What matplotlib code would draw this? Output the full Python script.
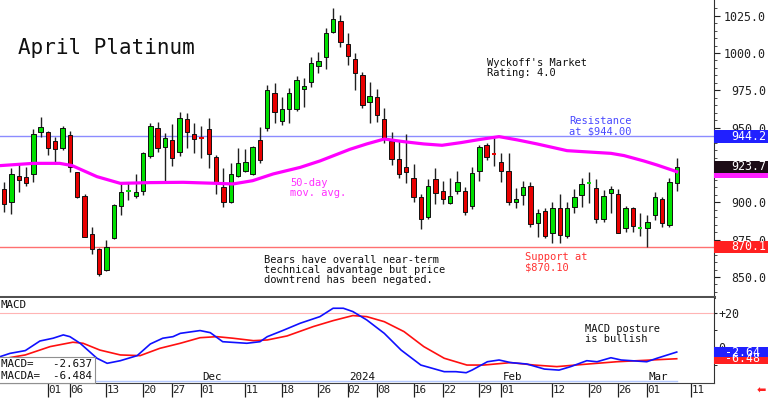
"""April Platinum daily candles with 50-day MA and MACD panel."""
import matplotlib
matplotlib.use("Agg")
import matplotlib.pyplot as plt
import matplotlib.transforms as mtransforms
from matplotlib.patches import Rectangle
import pandas as pd

plt.rcParams["font.family"] = ["DejaVu Sans Mono", "DejaVu Sans"]

# trading days (exchange holidays removed)
holidays = ["2023-11-23", "2023-12-25", "2024-01-01", "2024-01-15", "2024-02-19"]
dates = pd.bdate_range("2023-10-24", "2024-03-07")
dates = dates[~dates.isin(pd.to_datetime(holidays))]

opens = [908.7, 900.4, 917.6, 916.7, 919.0, 947.3, 947.3, 941.0, 936.6, 945.1,
         920.1, 904.4, 878.6, 868.5, 854.7, 875.9, 897.5, 907.7, 904.4, 907.8,
         931.0, 949.5, 937.3, 941.7, 933.5, 955.6, 945.7, 943.4, 949.1, 930.1,
         910.0, 900.4, 917.6, 921.2, 919.0, 941.7, 949.6, 973.0, 954.7, 962.3,
         962.3, 975.7, 980.8, 991.3, 997.6, 1013.8, 1021.7, 1006.0, 995.8, 985.6,
         967.4, 970.3, 955.6, 941.1, 928.8, 923.4, 916.1, 903.3, 889.9, 915.4,
         907.8, 899.3, 907.8, 907.8, 897.5, 921.2, 938.4, 932.4, 927.2, 921.2,
         900.4, 904.9, 910.9, 885.9, 894.4, 879.7, 896.0, 877.4, 896.6, 904.9,
         913.0, 909.3, 888.6, 906.0, 905.5, 882.6, 896.0, 882.5, 882.6, 891.5,
         902.2, 884.8, 912.7]
highs = [913.8, 922.7, 925.6, 923.4, 948.9, 956.9, 947.7, 944.0, 951.1, 947.7,
         920.5, 905.3, 883.7, 869.6, 874.8, 898.9, 913.1, 913.8, 919.0, 933.9,
         952.9, 954.0, 946.2, 952.4, 960.2, 959.6, 952.9, 951.0, 956.2, 931.7,
         922.8, 926.1, 936.1, 935.5, 938.0, 950.7, 978.6, 980.1, 970.8, 976.3,
         984.6, 983.0, 997.6, 1000.9, 1016.5, 1029.9, 1025.5, 1013.6, 1000.2, 987.5,
         980.8, 975.7, 962.9, 947.3, 941.7, 945.7, 925.7, 905.6, 915.4, 922.8,
         914.5, 916.1, 921.2, 910.5, 923.9, 938.4, 939.5, 943.5, 932.8, 932.8,
         909.3, 914.5, 913.8, 895.3, 896.0, 900.4, 905.6, 900.4, 908.7, 916.0,
         920.5, 915.4, 908.2, 910.9, 908.7, 897.5, 896.6, 892.6, 891.5, 907.1,
         903.3, 916.0, 929.4]
lows = [893.7, 892.2, 907.1, 910.9, 913.8, 943.5, 931.7, 925.6, 935.0, 920.5,
        903.1, 876.5, 865.4, 850.6, 854.2, 875.6, 891.5, 901.5, 902.7, 904.9,
        929.4, 933.9, 913.8, 924.3, 931.0, 936.1, 933.2, 929.7, 922.8, 905.6,
        896.6, 899.8, 916.7, 920.5, 918.3, 926.1, 947.8, 952.9, 951.8, 952.9,
        961.0, 963.6, 977.0, 986.8, 989.1, 1013.2, 1003.8, 992.0, 975.2, 963.0,
        953.3, 954.0, 940.0, 925.0, 916.1, 913.2, 900.4, 881.9, 888.6, 898.9,
        898.9, 898.9, 905.6, 891.5, 895.3, 914.5, 928.3, 924.3, 913.8, 898.2,
        896.0, 898.2, 883.7, 876.5, 875.9, 872.5, 873.0, 875.9, 893.1, 896.6,
        899.8, 886.3, 887.0, 893.1, 879.2, 880.3, 880.3, 877.4, 870.1, 888.1,
        883.2, 883.2, 907.6]
closes = [898.9, 919.0, 914.9, 912.7, 945.7, 950.7, 936.1, 935.7, 949.5, 923.9,
          903.8, 877.0, 868.7, 852.0, 870.3, 898.0, 907.1, 907.8, 907.1, 932.8,
          951.1, 936.6, 942.8, 929.4, 956.2, 947.3, 942.2, 943.3, 932.1, 913.4,
          900.4, 919.0, 926.5, 927.2, 936.8, 928.4, 975.2, 960.3, 962.3, 973.0,
          981.9, 977.9, 993.1, 994.7, 1013.6, 1022.6, 1007.6, 998.0, 986.4, 965.5,
          971.2, 958.5, 942.8, 928.8, 919.0, 920.5, 903.3, 888.6, 910.9, 906.0,
          902.0, 904.2, 913.8, 893.7, 919.9, 936.8, 930.5, 932.3, 921.2, 900.4,
          902.2, 910.0, 885.5, 892.6, 877.4, 896.0, 878.1, 896.0, 903.8, 912.2,
          913.1, 888.6, 904.2, 908.7, 879.7, 896.0, 884.1, 882.6, 887.0, 903.3,
          886.3, 913.8, 923.7]

# 50-day moving average, read at (bar position, value)
ma_pos = [-0.5, 4, 7.6, 9.3, 12.7, 15.9, 20, 24.5, 29.1, 31.3, 34, 36.8, 40.5,
          43.2, 47.3, 49.6, 52, 54.7, 57.4, 59.9, 62.5, 65.2, 67.7, 70.2, 72.9,
          77, 79.3, 83, 84.8, 87.5, 89.3, 91.6, 92]
ma_val = [924.6, 926.1, 926.1, 924.6, 917.2, 912.7, 913.2, 913.4, 912.7, 912.3,
          914.5, 919.0, 923.4, 927.7, 935.5, 939.1, 942.4, 940.6, 939.1, 938.2,
          940.0, 942.2, 944.0, 941.8, 939.1, 934.6, 933.9, 932.8, 931.3, 927.7,
          925.0, 921.2, 920.5]

macd_pos = [-0.56, 0.8, 2.9, 4.9, 6.7, 8.1, 9.0, 10.4, 12.7, 14.1, 15.9, 18.2,
            20.0, 21.7, 23.1, 24.1, 26.8, 28.2, 29.9, 33.2, 35.0, 36.0, 38.1,
            40.5, 43.2, 45.0, 46.4, 47.7, 49.6, 52.0, 54.3, 57.0, 60.2, 61.8,
            63.2, 64.0, 66.1, 67.7, 69.3, 71.5, 73.9, 75.9, 77.5, 79.7, 81.1,
            83.0, 84.4, 87.9, 89.3, 92.0]
macd_val = [-5.3, -3.4, -1.8, 3.7, 5.3, 7.2, 6.2, 2.4, -6.2, -9.1, -7.6, -4.7,
            2.0, 5.3, 6.2, 8.1, 9.7, 8.5, 3.3, 2.4, 3.3, 6.2, 9.7, 13.9, 17.7,
            22.5, 22.5, 20.6, 15.8, 8.1, -1.5, -10.1, -13.9, -13.9, -14.5,
            -13.0, -8.2, -7.2, -8.7, -9.5, -12.4, -13.0, -11.0, -7.6, -8.2,
            -5.9, -7.2, -8.2, -6.2, -2.637]
signal_pos = [-0.56, 2.9, 6.3, 9.4, 10.8, 13.1, 15.9, 18.6, 21.3, 24.1, 26.8,
              29.1, 31.3, 34.1, 36.0, 38.7, 42.3, 45.0, 47.7, 49.6, 52.0, 54.7,
              57.4, 60.2, 63.3, 65.6, 69.3, 72.5, 75.6, 79.3, 83.8, 88.5, 92.0]
signal_val = [-6.8, -4.3, 0.5, 3.0, 2.4, -1.5, -4.3, -4.7, -0.5, 2.4, 5.6, 6.2,
              5.3, 3.9, 4.3, 6.6, 12.0, 15.4, 18.3, 17.7, 14.8, 9.1, 0.5, -6.2,
              -10.1, -10.1, -8.7, -10.1, -11.0, -9.7, -8.2, -7.2, -6.484]

tick_days = ["2023-11-01", "2023-11-06", "2023-11-13", "2023-11-20", "2023-11-27",
             "2023-12-01", "2023-12-11", "2023-12-18", "2023-12-26", "2024-01-02",
             "2024-01-08", "2024-01-16", "2024-01-22", "2024-01-29", "2024-02-01",
             "2024-02-12", "2024-02-20", "2024-02-26", "2024-03-01", "2024-03-11"]
month_marks = [("2023-12-01", "Dec"), ("2024-01-02", "2024"),
               ("2024-02-01", "Feb"), ("2024-03-01", "Mar")]

resistance = 944.2
support = 870.1

GREEN = "#00e000"
RED = "#e80000"
XLIM = (-0.56, 97.1)


def day_pos(day):
    """Bar position of a date; future dates continue the weekday count."""
    d = pd.Timestamp(day)
    if d in dates:
        return int(dates.get_loc(d))
    extra = len(pd.bdate_range(dates[-1], d)) - 1
    return len(dates) - 1 + extra


fig = plt.figure(figsize=(7.68, 3.98), dpi=100)
ax = fig.add_axes([0, 0.2538, 0.9297, 0.7462])
axm = fig.add_axes([0, 0.0377, 0.9297, 0.2136])

n = len(closes)
xs = list(range(n))

# ---- price panel
ax.axhline(resistance, color="#8c8cff", lw=1.0, zorder=1)
ax.axhline(support, color="#ff7070", lw=1.0, zorder=1)
ax.vlines(xs, lows, highs, color="#202020", lw=1.0, zorder=2)
for i in xs:
    o, c = opens[i], closes[i]
    col = GREEN if c >= o else RED
    if abs(c - o) < 0.5:
        # doji: just a coloured dash
        ax.hlines(c, i - 0.3, i + 0.3, color=col, lw=1.4, zorder=3)
    else:
        ax.bar(i, abs(c - o), bottom=min(o, c), width=0.6, color=col,
               edgecolor="#101010", linewidth=0.7, zorder=3)
ax.plot(ma_pos, ma_val, color="#ff00ff", lw=2.3, zorder=4)

ax.set_xlim(*XLIM)
ax.set_ylim(836.6, 1035.5)
for s in ("left", "top"):
    ax.spines[s].set_visible(False)
ax.spines["right"].set_color("#303030")
ax.spines["bottom"].set_color("#505050")
ax.spines["bottom"].set_linewidth(2.2)
ax.set_xticks([])
ax.yaxis.tick_right()
price_ticks = [850, 875, 900, 925, 950, 975, 1000, 1025]
ax.set_yticks(price_ticks)
ax.set_yticklabels([f"{v:.1f}" for v in price_ticks])
ax.set_yticks(range(840, 1035, 5), minor=True)
ax.tick_params(axis="y", which="major", length=4, width=0.8, pad=33.4,
               labelsize=8.4, colors="#202020")
ax.tick_params(axis="y", which="minor", length=2.2, width=0.6, colors="#303030")
plt.setp(ax.get_yticklabels(), ha="right")

ax.text(1.9, 1003.4, "April Platinum", fontsize=15, va="center", color="#101010")
ax.text(66.1, 996.7, "Wyckoff's Market\nRating: 4.0", fontsize=7.5, va="top",
        linespacing=1.0, color="#101010")
ax.text(77.3, 957.8, "Resistance\nat $944.00", fontsize=7.5, va="top",
        linespacing=1.0, color="#4848ff")
ax.text(39.1, 916.3, "50-day\nmov. avg.", fontsize=7.5, va="top",
        linespacing=1.0, color="#ff30ff")
ax.text(35.6, 864.6, "Bears have overall near-term\ntechnical advantage but price\n"
        "downtrend has been negated.", fontsize=7.5, va="top", linespacing=1.0,
        color="#101010")
ax.text(71.3, 866.6, "Support at\n$870.10", fontsize=7.5, va="top",
        linespacing=1.0, color="#ff3030")

# value flags on the price scale
tp = mtransforms.blended_transform_factory(ax.transAxes, ax.transData)
flags = [(ma_val[-1], "#ff20ff", ""), (resistance, "#2020ff", f"{resistance:.1f}"),
         (closes[-1], "#1c0c16", f"{closes[-1]:.1f}"), (support, "#ff2020", f"{support:.1f}")]
for val, col, lab in flags:
    ax.add_patch(Rectangle((1.0, val - 4.2), 0.0756, 8.4, transform=tp,
                           facecolor=col, edgecolor="none", clip_on=False, zorder=6))
    if lab:
        ax.text(1.0728, val, lab, transform=tp, ha="right", va="center",
                fontsize=8.4, color="white", zorder=7, clip_on=False)

# ---- MACD panel
axm.axhline(20, color="#ffb4b4", lw=0.8, zorder=1)
axm.plot([XLIM[0], n - 1], [-19.3, -19.3], color="#b4c8ff", lw=1.0, zorder=1)
axm.plot(signal_pos, signal_val, color="#ff1010", lw=1.2, zorder=3)
axm.plot(macd_pos, macd_val, color="#1010ff", lw=1.2, zorder=3)

axm.set_xlim(*XLIM)
axm.set_ylim(-20.4, 28.4)
for s in ("left", "top"):
    axm.spines[s].set_visible(False)
axm.spines["right"].set_color("#303030")
axm.spines["bottom"].set_color("#404040")
axm.spines["bottom"].set_linewidth(0.8)
axm.yaxis.tick_right()
axm.set_yticks([0, 20])
axm.set_yticklabels(["0", "+20"])
axm.set_yticks([-10, 10], minor=True)
axm.tick_params(axis="y", which="major", length=2.5, width=0.8, pad=0.5,
                labelsize=8.4, colors="#202020")
axm.tick_params(axis="y", which="minor", length=2.0, width=0.6)

axm.set_xticks([day_pos(d) for d in tick_days])
axm.set_xticklabels([pd.Timestamp(d).strftime("%d") for d in tick_days])
axm.tick_params(axis="x", length=10, width=0.9, pad=-5.0, labelsize=7.8,
                colors="#202020")
plt.setp(axm.get_xticklabels(), ha="left", va="center")

for d, lab in month_marks:
    axm.text(day_pos(d) + 0.15, -17.0, lab, fontsize=7.8, va="center",
             color="#101010", zorder=4)

axm.text(-0.5, 24.1, "MACD", fontsize=7.8, va="center", color="#101010")
axm.text(79.5, 13.5, "MACD posture\nis bullish", fontsize=7.5, va="top",
         linespacing=1.0, color="#101010")
axm.text(-0.45, -6.9, f"MACD=   {macd_val[-1]:.3f}\nMACDA=  {signal_val[-1]:.3f}",
         fontsize=7.8, va="top", linespacing=1.15, color="#101010", zorder=6,
         bbox=dict(boxstyle="square,pad=0.25", facecolor="white",
                   edgecolor="#909090", linewidth=0.8))

tm = mtransforms.blended_transform_factory(axm.transAxes, axm.transData)
for val, col in [(signal_val[-1], "#ff2020"), (macd_val[-1], "#2020ff")]:
    axm.add_patch(Rectangle((1.0, val - 2.9), 0.0756, 5.8, transform=tm,
                            facecolor=col, edgecolor="none", clip_on=False, zorder=6))
    axm.text(1.0644, val, f"{val:.2f}", transform=tm, ha="right", va="center",
             fontsize=8.4, color="white", zorder=7, clip_on=False)

fig.text(0.9915, 0.02, "\u2b05", fontsize=8, color="#ff2020", ha="center",
         va="center", family=["DejaVu Sans"])

fig.savefig("out.png", dpi=100)
